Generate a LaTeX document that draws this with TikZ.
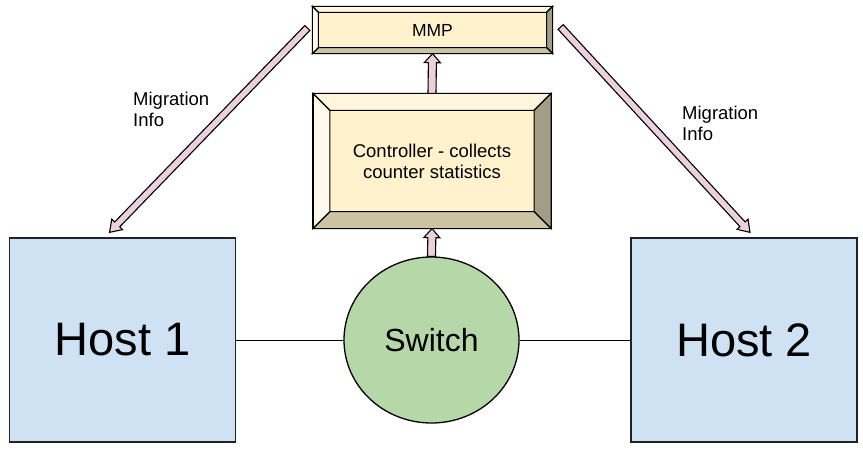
\documentclass[tikz,border=0pt]{standalone}
\usepackage{fontspec}
\setmainfont{Liberation Sans}
\usetikzlibrary{calc,shapes.geometric}
\definecolor{hostblue}{HTML}{CFE2F3}
\definecolor{swgreen}{HTML}{B6D7A8}
\definecolor{face}{HTML}{FFF2CC}
\definecolor{bvtop}{HTML}{FFF6DD}
\definecolor{bvleft}{HTML}{FFFAEB}
\definecolor{bvright}{HTML}{A29E85}
\definecolor{bvbottom}{HTML}{CBC3A2}
\definecolor{arrpink}{HTML}{EAD1DC}
\definecolor{edge}{HTML}{222222}
\tikzset{
  hostbox/.style={draw=edge, line width=1.3pt, fill=hostblue, minimum width=226, minimum height=204, inner sep=0, font=\fontsize{47}{50}\selectfont},
  swnode/.style={ellipse, draw=black, line width=1.3pt, fill=swgreen, minimum width=175, minimum height=166, inner sep=0, font=\fontsize{32}{34}\selectfont},
  bevelbox/.style={draw=black, line width=1.3pt, fill=face, inner sep=0, align=center},
  bevelpart/.style={draw=black, line width=1.1pt, line join=miter},
  link/.style={draw=black, line width=1pt},
  arrowstyle/.style={draw=black, line width=1.1pt, fill=arrpink, line join=miter},
  lbl/.style={anchor=north west, inner sep=0, align=left, font=\fontsize{18.5}{21}\selectfont}
}
% bevel drawing: node name, bevel size
\newcommand\drawbevel[2]{%
  \coordinate (#1-inw) at ($(#1.north west)+(#2,#2)$);
  \coordinate (#1-ine) at ($(#1.north east)+(-#2,#2)$);
  \coordinate (#1-ise) at ($(#1.south east)+(-#2,-#2)$);
  \coordinate (#1-isw) at ($(#1.south west)+(#2,-#2)$);
  \draw[bevelpart, fill=bvtop] (#1.north west) -- (#1.north east) -- (#1-ine) -- (#1-inw) -- cycle;
  \draw[bevelpart, fill=bvright] (#1.north east) -- (#1.south east) -- (#1-ise) -- (#1-ine) -- cycle;
  \draw[bevelpart, fill=bvbottom] (#1.south east) -- (#1.south west) -- (#1-isw) -- (#1-ise) -- cycle;
  \draw[bevelpart, fill=bvleft] (#1.south west) -- (#1.north west) -- (#1-inw) -- (#1-isw) -- cycle;
  \draw[line width=1.3pt] (#1.north west) rectangle (#1.south east);
}
% block arrow: from, to, shaft half width, head half width, head length
\newcommand\blockarr[5]{%
  \draw[arrowstyle] let \p1=(#1), \p2=(#2),
    \n1={atan2(\y2-\y1,\x2-\x1)}, \n2={veclen(\x2-\x1,\y2-\y1)-#5} in
    ($(\p1)+(\n1+90:#3pt)$) -- ($(\p1)+(\n1:\n2)+(\n1+90:#3pt)$)
    -- ($(\p1)+(\n1:\n2)+(\n1+90:#4pt)$) -- (\p2)
    -- ($(\p1)+(\n1:\n2)+(\n1-90:#4pt)$) -- ($(\p1)+(\n1:\n2)+(\n1-90:#3pt)$)
    -- ($(\p1)+(\n1-90:#3pt)$) -- cycle;
}
\begin{document}
\begin{tikzpicture}[x=1pt, y=-1pt]
\useasboundingbox (0,0) rectangle (863,452);
% hosts and switch
\node[hostbox] (host1) at (122.5,340) {Host 1};
\node[hostbox] (host2) at (744,340) {Host 2};
\node[swnode] (switch) at (431.5,340) {Switch};
\draw[link] (host1.east) -- (switch.west);
\draw[link] (switch.east) -- (host2.west);
% controller
\node[bevelbox, minimum width=237, minimum height=134] (ctrl) at (432,161) {};
\drawbevel{ctrl}{17}
\node[align=center, inner sep=0, font=\fontsize{18.5}{21}\selectfont] (ctrltext) at (ctrl.center) {Controller - collects\\counter statistics};
% MMP
\node[bevelbox, minimum width=239, minimum height=46] (mmp) at (432.5,30) {};
\drawbevel{mmp}{6}
\node[inner sep=0, font=\fontsize{17.5}{19}\selectfont] (mmptext) at (mmp.center) {MMP};
% vertical arrows
\blockarr{switch.north}{ctrl.south}{4}{8}{9}
\blockarr{ctrl.north}{mmp.south}{4}{8}{9}
% diagonal arrows
\coordinate (lt) at ($(mmp.west)+(-5,-2)$);
\coordinate (lh) at ($(host1.north)+(-13,-5)$);
\coordinate (rt) at ($(mmp.east)+(8,-3)$);
\coordinate (rh) at ($(host2.north)+(6,-5)$);
\blockarr{lt}{lh}{3.5}{7.5}{11}
\blockarr{rt}{rh}{3.5}{7.5}{11}
% labels
\node[lbl] (lblL) at (133,92) {Migration\\Info};
\node[lbl] (lblR) at (682,106) {Migration\\Info};
\end{tikzpicture}
\end{document}
